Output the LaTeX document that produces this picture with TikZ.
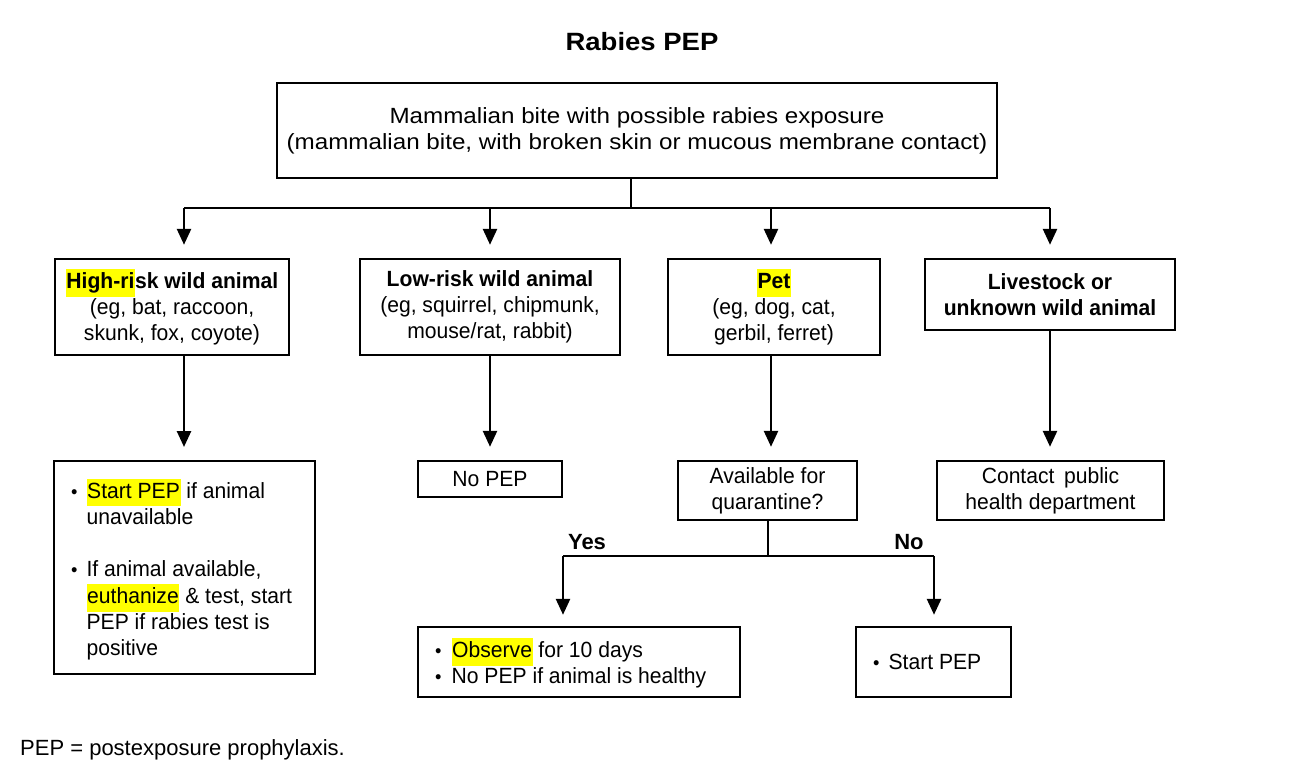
\documentclass[tikz,border=0pt]{standalone}
\usepackage{fontspec}
\setmainfont{Liberation Sans}
\newfontfamily\widef{Liberation Sans}[FakeStretch=1.1]
\newfontfamily\narf{Liberation Sans}[FakeStretch=0.96]
\usetikzlibrary{arrows.meta}
\definecolor{hly}{RGB}{255,255,0}
\newcommand\hlt[1]{{\setlength{\fboxsep}{0.6pt}\colorbox{hly}{\strut #1}}}
\newcommand\bul{{\fontsize{19}{19}\selectfont\textbullet}}
\tikzset{
  box/.style={draw, line width=2.4pt, inner sep=0pt, align=center,
    font=\narf\fontsize{22}{26}\selectfont},
  txt/.style={inner sep=0pt, font=\narf\fontsize{22}{26}\selectfont},
  ln/.style={line width=2.6pt},
  arr/.style={ln, -{Triangle[length=16pt,width=14pt]}, shorten >=13pt},
  lab/.style={font=\bfseries\fontsize{22}{26}\selectfont, inner sep=0pt},
}
\begin{document}
\begin{tikzpicture}[x=1pt,y=-1pt]
\useasboundingbox (0,0) rectangle (1305,778);
\node[font=\widef\bfseries\fontsize{25}{30}\selectfont] (title) at (642,42) {Rabies PEP};

\node[box, font=\widef\fontsize{22}{26}\selectfont, minimum width=720, minimum height=95] (top) at (637,130.5)
 {Mammalian bite with possible rabies exposure\\(mammalian bite, with broken skin or mucous membrane contact)};

\node[box, minimum width=234, minimum height=96] (b1) at (172,307)
 {\textbf{\hlt{High-ri}sk wild animal}\\(eg, bat, raccoon,\\skunk, fox, coyote)};
\node[box, minimum width=260, minimum height=96] (b2) at (490,307)
 {\textbf{Low-risk wild animal}\\(eg, squirrel, chipmunk,\\mouse/rat, rabbit)};
\node[box, minimum width=212, minimum height=96] (b3) at (774,307)
 {\textbf{\hlt{Pet}}\\(eg, dog, cat,\\gerbil, ferret)};
\node[box, minimum width=250, minimum height=71] (b4) at (1050,294.5)
 {\textbf{Livestock or}\\\textbf{unknown wild animal}};

\node[box, minimum width=261, minimum height=213, anchor=north west] (c1) at (53,460) {};
\node[txt, anchor=north west, align=left] (c1t) at (71,479)
 {\begin{tabular}{@{}l@{\hspace{9pt}}l@{}}
  \bul & \hlt{Start PEP} if animal\\
       & unavailable\\[26pt]
  \bul & If animal available,\\
       & \hlt{euthanize} \& test, start\\
       & PEP if rabies test is\\
       & positive
  \end{tabular}};

\node[box, minimum width=144, minimum height=36] (c2) at (490,479) {No PEP};
\node[box, minimum width=179, minimum height=59] (c3) at (767.5,490.5) {Available for\\quarantine?};
\node[box, minimum width=227, minimum height=59] (c4) at (1050.5,490.5) {Contact\, public\\health department};

\node[box, minimum width=322, minimum height=70] (d1) at (579,662) {};
\node[txt, anchor=west] (d1t) at (435,665)
 {\begin{tabular}{@{}l@{\hspace{10pt}}l@{}}
  \bul & \hlt{Observe} for 10 days\\
  \bul & No PEP if animal is healthy
  \end{tabular}};
\node[box, minimum width=155, minimum height=70] (d2) at (933.5,662) {};
\node[txt, anchor=west] (d2t) at (873,662)
 {\bul\hspace{9pt}Start PEP};

\node[anchor=west, inner sep=0pt, font=\fontsize{22}{26}\selectfont] (foot) at (20,750)
 {PEP = postexposure prophylaxis.};

% connectors
\coordinate (bus) at (631,208);
\coordinate (j1) at (184,208);
\coordinate (j2) at (490,208);
\coordinate (j3) at (771,208);
\coordinate (j4) at (1050,208);
\draw[ln] (top.south -| bus) -- (bus);
\draw[ln] (j1) -- (j4);
\draw[arr] (j1) -- (j1 |- b1.north);
\draw[arr] (j2) -- (j2 |- b2.north);
\draw[arr] (j3) -- (j3 |- b3.north);
\draw[arr] (j4) -- (j4 |- b4.north);

\draw[arr] (j1 |- b1.south) -- (j1 |- c1.north);
\draw[arr] (j2 |- b2.south) -- (j2 |- c2.north);
\draw[arr] (j3 |- b3.south) -- (j3 |- c3.north);
\draw[arr] (j4 |- b4.south) -- (j4 |- c4.north);

\coordinate (q) at (768,556);
\coordinate (qy) at (563,556);
\coordinate (qn) at (934,556);
\draw[ln] (c3.south -| q) -- (q);
\draw[ln] (qy) -- (qn);
\draw[arr, shorten >=11pt] (qy) -- (qy |- d1.north);
\draw[arr, shorten >=11pt] (qn) -- (qn |- d2.north);
\node[lab] (yes) at (587,542) {Yes};
\node[lab] (no) at (909,542) {No};
\end{tikzpicture}
\end{document}
